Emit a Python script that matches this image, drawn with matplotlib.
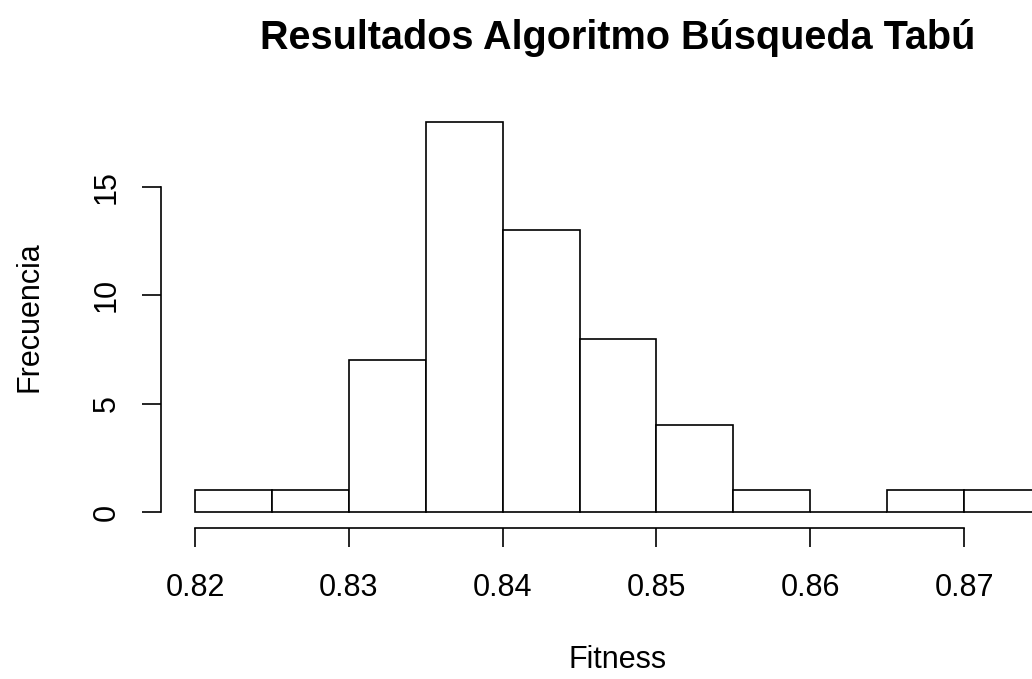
import numpy as np
import matplotlib
matplotlib.use("Agg")
import matplotlib.pyplot as plt

# histogram bins (left edges) and counts
bin_edges = [0.820, 0.825, 0.830, 0.835, 0.840, 0.845, 0.850, 0.855, 0.860, 0.865, 0.870, 0.875]
counts = [1, 1, 7, 18, 13, 8, 4, 1, 0, 1, 1]
x_ticks = [0.82, 0.83, 0.84, 0.85, 0.86, 0.87]
x_tick_labels = ["0.82", "0.83", "0.84", "0.85", "0.86", "0.87"]
y_ticks = [0, 5, 10, 15]

plt.rcParams["font.family"] = ["Liberation Sans", "DejaVu Sans"]

W, H = 1032, 679
fig = plt.figure(figsize=(W / 100, H / 100), dpi=100)

# plot region in pixels: left 161, bottom 528, top 106, right edge of figure
left_px, right_px, top_px, bot_px = 161, 1032, 106, 528
ax = fig.add_axes([left_px / W, 1 - bot_px / H, (right_px - left_px) / W, (bot_px - top_px) / H])

px_per_x = (964 - 195) / 0.05
px_per_y = (512 - 187) / 15
ax.set_xlim(0.82 - (195 - left_px) / px_per_x, 0.82 + (right_px - 195) / px_per_x)
ax.set_ylim(-(bot_px - 512) / px_per_y, (512 - top_px) / px_per_y)

lefts = np.array(bin_edges[:-1])
widths = np.diff(bin_edges)
ax.bar(lefts, counts, width=widths, align="edge", color="white",
       edgecolor="black", linewidth=1.2)

for side in ["top", "right"]:
    ax.spines[side].set_visible(False)
ax.spines["left"].set_bounds(0, 15)
ax.spines["bottom"].set_bounds(0.82, 0.87)
ax.spines["left"].set_linewidth(1.2)
ax.spines["bottom"].set_linewidth(1.2)

ax.set_xticks(x_ticks)
ax.set_xticklabels(x_tick_labels)
ax.set_yticks(y_ticks)
ax.set_yticklabels([str(v) for v in y_ticks], rotation=90, va="center")
ax.tick_params(axis="both", direction="out", length=13.7, width=1.2,
               labelsize=22, colors="black")
ax.tick_params(axis="x", pad=19)
ax.tick_params(axis="y", pad=14.5)

fig.text(618 / W, 1 - 38 / H, "Resultados Algoritmo Búsqueda Tabú",
         ha="center", va="center", fontsize=28.5, fontweight="bold")
fig.text(618 / W, 1 - 660 / H, "Fitness", ha="center", va="center", fontsize=22)
fig.text(30 / W, 1 - 317 / H, "Frecuencia", ha="center", va="center",
         rotation=90, fontsize=22)

fig.savefig("out.png", dpi=100)
